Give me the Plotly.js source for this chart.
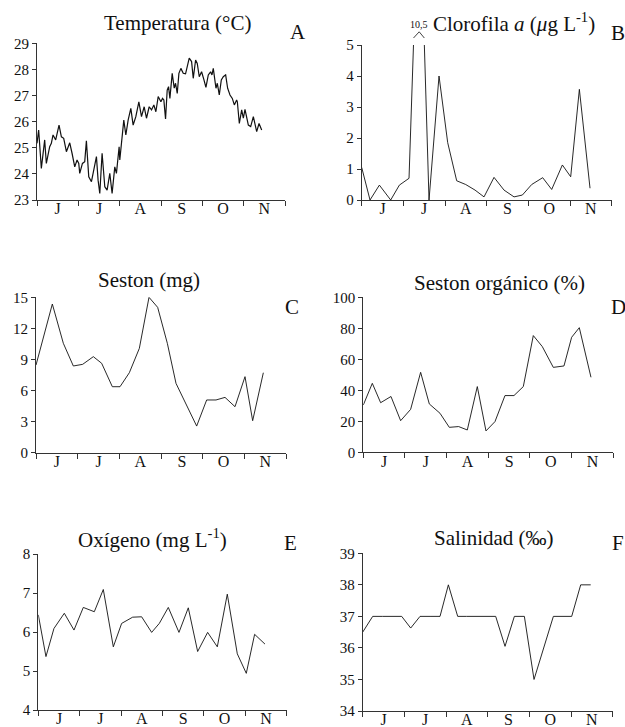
<!DOCTYPE html>
<html>
<head>
<meta charset="utf-8">
<script src="https://cdn.plot.ly/plotly-3.0.1.min.js"></script>
<style>html,body{margin:0;padding:0;background:#fff;}#chart{width:625px;height:727px;}</style>
</head>
<body>
<div id="chart"></div>
<script>
// ---- month tick labels (Jun..Nov) ----
const monthLabels = ['J','J','A','S','O','N'];

// ---- A: Temperatura (°C), x in months since 1 June ----
const tempX = [0.00,0.04,0.105,0.186,0.226,0.307,0.347,0.388,0.452,0.533,0.590,0.646,0.711,0.792,0.848,0.913,0.969,1.010,1.034,1.099,1.155,1.195,1.252,1.317,1.357,1.438,1.478,1.519,1.575,1.640,1.696,1.761,1.817,1.882,1.922,1.987,2.003,2.044,2.100,2.149,2.205,2.270,2.326,2.391,2.464,2.528,2.593,2.649,2.714,2.771,2.827,2.876,2.932,2.997,3.037,3.069,3.110,3.150,3.183,3.215,3.271,3.320,3.352,3.393,3.433,3.481,3.538,3.594,3.643,3.683,3.740,3.780,3.837,3.877,3.926,3.982,4.039,4.087,4.144,4.200,4.233,4.265,4.330,4.362,4.410,4.459,4.507,4.564,4.612,4.669,4.725,4.774,4.830,4.847,4.895,4.952,4.992,5.032,5.113,5.170,5.234,5.275,5.315,5.372,5.436];
const tempY = [25.17,25.68,24.21,25.30,24.40,25.04,25.17,25.49,25.30,25.87,25.42,25.36,24.85,25.19,24.79,24.27,24.53,24.40,24.02,24.40,24.47,25.27,23.89,23.70,24.02,24.66,23.76,23.25,24.79,23.51,23.38,24.02,23.25,24.27,24.02,25.04,24.53,25.17,26.06,25.49,26.06,26.51,25.87,26.19,26.76,26.19,26.57,26.13,26.57,26.45,26.64,26.38,26.96,26.76,26.89,26.83,26.10,27.21,27.34,26.89,27.85,27.28,27.47,27.08,27.85,28.04,27.85,27.83,28.17,28.43,28.30,27.66,28.36,28.23,27.72,27.91,27.60,27.31,27.79,27.91,27.79,28.04,27.28,27.47,27.02,27.60,27.72,27.79,27.28,27.02,26.89,26.64,26.83,26.76,25.93,26.45,26.13,26.47,25.87,25.81,26.19,25.87,25.62,25.93,25.68];

// ---- B: Clorofila a ----
const chlX = [0,0.2,0.424,0.696,0.904,1.136,1.38,1.616,1.856,2.064,2.28,2.496,2.72,2.936,3.176,3.416,3.656,3.856,4.08,4.344,4.56,4.816,5.016,5.224,5.48];
const chlY = [1.05,0,0.48,0,0.48,0.7,10.5,0,4.0,1.85,0.62,0.5,0.32,0.1,0.73,0.32,0.1,0.16,0.5,0.72,0.34,1.13,0.75,3.57,0.38];

// ---- C: Seston (mg) ----
const sestX = [0,0.392,0.656,0.896,1.12,1.376,1.576,1.832,2.016,2.24,2.48,2.712,2.92,3.152,3.36,3.576,3.856,4.096,4.32,4.536,4.776,5.016,5.2,5.456];
const sestY = [8.46,14.35,10.56,8.37,8.53,9.27,8.63,6.37,6.37,7.72,10.07,15.0,14.03,10.56,6.69,4.92,2.57,5.09,5.09,5.34,4.44,7.34,3.09,7.72];

// ---- D: Seston orgánico (%) ----
const orgX = [0,0.216,0.416,0.664,0.896,1.136,1.376,1.584,1.84,2.064,2.288,2.496,2.736,2.944,3.16,3.4,3.616,3.84,4.08,4.296,4.56,4.816,5.0,5.184,5.464];
const orgY = [30.5,44.5,32,36,20.4,27.7,51.6,31.2,25.2,16.1,16.6,14.4,42.4,13.8,19.8,36.6,36.6,42.4,75.3,68.2,54.8,55.7,74.2,80.4,48.4];

// ---- E: Oxígeno (mg L-1) ----
const oxyX = [0,0.185,0.378,0.628,0.862,1.087,1.353,1.57,1.812,2.013,2.279,2.496,2.738,2.923,3.14,3.398,3.623,3.849,4.09,4.324,4.565,4.807,5.024,5.225,5.475];
const oxyY = [6.44,5.37,6.09,6.48,6.05,6.63,6.52,7.09,5.62,6.22,6.38,6.39,5.99,6.22,6.63,5.99,6.62,5.5,5.99,5.62,6.97,5.44,4.94,5.94,5.69];

// ---- F: Salinidad (‰) ----
const salX = [0,0.24,0.48,0.72,0.936,1.152,1.376,1.616,1.856,2.056,2.28,2.496,2.736,2.96,3.192,3.416,3.64,3.88,4.112,4.576,4.8,5.016,5.232,5.472];
const salY = [36.5,37,37,37,37,36.63,37,37,37,38,37,37,37,37,37,36.05,37,37,35,37,37,37,38,38];

// ---- titles ----
const titles = ['Temperatura (°C)','Clorofila <i>a</i> (<i>μ</i>g L<sup>-1</sup>)','Seston (mg)','Seston orgánico (%)','Oxígeno (mg L<sup>-1</sup>)','Salinidad (‰)'];
const letters = ['A','B','C','D','E','F'];

const FONT = 'Liberation Serif, Times New Roman, serif';
const AX = '#333';
const W = 625, H = 727;

// panel pixel geometry: [left, right, top, bottom]
const panels = [
  [37, 285, 43.3, 200],
  [361.7, 611.7, 45, 200],
  [36, 286, 297.3, 452.7],
  [363.3, 613.3, 297.3, 452.3],
  [38.3, 286.7, 554, 710],
  [362.7, 612.7, 553.3, 711]
];
const yRanges = [[23,29],[0,5],[0,15],[0,100],[4,8],[34,39]];
const yDticks = [1,1,3,20,1,1];
const titlePos = [[177,23],[514,23],[149,280],[499,283],[152,538],[494,538]];
const letterPos = [[298,32],[618,33],[292,307],[618,307],[290,543],[618,543]];

const series = [[tempX,tempY,1.2],[chlX,chlY,0.9],[sestX,sestY,0.9],[orgX,orgY,0.9],[oxyX,oxyY,0.9],[salX,salY,0.9]];

const layout = {
  width: W, height: H,
  margin: {l:0,r:0,t:0,b:0},
  paper_bgcolor: '#fff', plot_bgcolor: '#fff',
  showlegend: false,
  font: {family: FONT, color: '#111'},
  annotations: [],
  shapes: []
};
const data = [];

panels.forEach((p, i) => {
  const n = i === 0 ? '' : String(i + 1);
  const xd = [p[0] / W, p[1] / W];
  const yd = [1 - p[3] / H, 1 - p[2] / H];
  layout['xaxis' + n] = {
    domain: xd, range: [0, 6], anchor: 'y' + n,
    showline: true, linecolor: AX, linewidth: 1,
    showgrid: false, zeroline: false,
    tickmode: 'array', tickvals: [0.5,1.5,2.5,3.5,4.5,5.5], ticktext: monthLabels,
    ticks: '', ticklabelstandoff: -6,
    tickfont: {family: FONT, size: 16, color: '#111'},
    minor: {tickmode: 'array', tickvals: [0,1,2,3,4,5,6], ticks: 'outside', ticklen: 5, tickwidth: 1, tickcolor: AX, showgrid: false},
    fixedrange: true
  };
  layout['yaxis' + n] = {
    domain: yd, range: yRanges[i], anchor: 'x' + n,
    showline: true, linecolor: AX, linewidth: 1,
    showgrid: false, zeroline: false,
    tickmode: 'linear', tick0: yRanges[i][0], dtick: yDticks[i],
    ticks: 'outside', ticklen: 4, tickwidth: 1, tickcolor: AX,
    tickfont: {family: FONT, size: 15, color: '#111'},
    fixedrange: true
  };
  data.push({
    type: 'scatter', mode: 'lines',
    x: series[i][0], y: series[i][1],
    xaxis: 'x' + n, yaxis: 'y' + n,
    line: {color: '#111', width: series[i][2]},
    hoverinfo: 'skip'
  });
  layout.annotations.push({
    xref: 'paper', yref: 'paper', x: titlePos[i][0] / W, y: 1 - titlePos[i][1] / H,
    xanchor: 'center', yanchor: 'middle', showarrow: false,
    text: titles[i], font: {family: FONT, size: 21, color: '#111'}
  });
  layout.annotations.push({
    xref: 'paper', yref: 'paper', x: letterPos[i][0] / W, y: 1 - letterPos[i][1] / H,
    xanchor: 'center', yanchor: 'middle', showarrow: false,
    text: letters[i], font: {family: FONT, size: 21, color: '#111'}
  });
});

// ---- off-scale chlorophyll peak marker (caret + value label) ----
const chlTop = yRanges[1][1];
const pk = chlY.indexOf(Math.max(...chlY));
const cross = (a, b) => chlX[a] + (chlX[b] - chlX[a]) * (chlTop - chlY[a]) / (chlY[b] - chlY[a]);
const c1 = cross(pk - 1, pk), c2 = cross(pk + 1, pk);
const xr = 6;
layout.shapes.push({
  type: 'path', xref: 'x2 domain', yref: 'y2 domain',
  path: `M ${c1 / xr} 1.045 L ${chlX[pk] / xr} 1.085 L ${c2 / xr} 1.045`,
  line: {color: '#111', width: 0.8}
});
layout.annotations.push({
  xref: 'x2', yref: 'y2 domain', x: chlX[pk], y: 1.085,
  xanchor: 'center', yanchor: 'bottom', showarrow: false,
  text: String(chlY[pk]).replace('.', ','), font: {family: FONT, size: 10, color: '#111'}
});

Plotly.newPlot('chart', data, layout, {staticPlot: true, displayModeBar: false});
</script>
</body>
</html>
